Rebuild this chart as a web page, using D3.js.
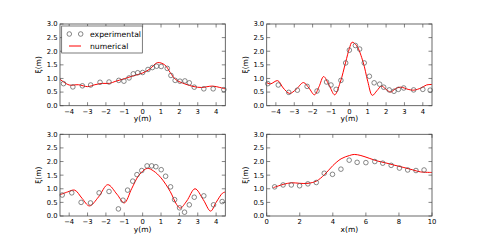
<!DOCTYPE html>
<html>
<head>
<meta charset="utf-8">
<script src="https://cdn.jsdelivr.net/npm/d3@7/dist/d3.min.js"></script>
<style>
  body { margin: 0; background: #fff; }
  svg { display: block; font-family: "DejaVu Sans", sans-serif; }
</style>
</head>
<body>
<script>
// experimental points (y or x position, wave height)
let exp1 = [[-4.31,0.81],[-3.80,0.69],[-3.28,0.73],[-2.83,0.76],[-2.32,0.86],[-1.83,0.87],[-1.30,0.93],[-1.02,0.90],[-0.74,1.02],[-0.51,1.17],[-0.27,1.21],[0,1.22],[0.29,1.33],[0.53,1.40],[0.76,1.45],[1.01,1.44],[1.34,1.37],[1.54,1.11],[1.77,0.93],[2.03,0.90],[2.30,0.91],[2.54,0.84],[2.81,0.68],[3.33,0.62],[3.84,0.62],[4.42,0.59]]
let num1 = [[-4.5,0.97],[-4.0,0.76],[-3.5,0.77],[-3.0,0.70],[-2.6,0.77],[-2.2,0.82],[-1.8,0.82],[-1.5,0.89],[-1.0,0.99],[-0.5,1.10],[0,1.20],[0.4,1.35],[0.8,1.58],[1.2,1.50],[1.5,1.22],[1.8,0.96],[2.3,0.80],[2.8,0.70],[3.2,0.67],[3.8,0.72],[4.2,0.67],[4.5,0.62]]

let exp2 = [[-4.44,0.81],[-3.87,0.76],[-3.30,0.49],[-2.83,0.57],[-2.30,0.71],[-1.76,0.54],[-1.24,0.87],[-1.00,0.76],[-0.72,0.60],[-0.46,0.93],[-0.20,1.57],[0,2.04],[0.33,2.21],[0.56,2.08],[0.81,1.57],[1.09,1.08],[1.35,0.84],[1.65,0.79],[1.87,0.68],[2.17,0.58],[2.43,0.53],[2.67,0.60],[2.96,0.65],[3.50,0.58],[4.00,0.60],[4.40,0.57]]
let num2 = [[-4.5,0.85],[-4.3,0.80],[-3.9,0.92],[-3.6,0.65],[-3.25,0.45],[-2.9,0.60],[-2.5,0.85],[-2.2,0.65],[-1.9,0.40],[-1.65,0.70],[-1.4,1.07],[-1.1,0.75],[-0.8,0.40],[-0.5,0.85],[-0.2,1.60],[0,2.10],[0.15,2.33],[0.4,2.20],[0.75,1.60],[1.0,0.90],[1.25,0.38],[1.5,0.55],[1.75,0.72],[2.0,0.60],[2.25,0.50],[2.5,0.62],[2.8,0.68],[3.2,0.60],[3.5,0.57],[3.9,0.65],[4.2,0.76],[4.5,0.78]]

let exp3 = [[-4.38,0.77],[-3.86,0.85],[-3.35,0.50],[-2.84,0.48],[-2.37,0.85],[-1.83,0.90],[-1.32,0.26],[-1.07,0.58],[-0.82,0.95],[-0.54,1.28],[-0.31,1.52],[-0.05,1.67],[0.24,1.84],[0.49,1.84],[0.72,1.81],[1.01,1.70],[1.25,1.46],[1.52,1.07],[1.74,0.60],[2.01,0.30],[2.28,0.14],[2.54,0.41],[2.81,0.69],[3.33,0.74],[3.86,0.41],[4.33,0.53]]
let num3 = [[-4.5,0.78],[-4.1,0.88],[-3.7,0.95],[-3.3,0.65],[-2.9,0.37],[-2.4,0.70],[-1.9,1.15],[-1.4,0.80],[-1.0,0.48],[-0.6,1.00],[-0.2,1.50],[0.25,1.75],[0.6,1.65],[1.0,1.40],[1.5,0.90],[1.85,0.42],[2.05,0.29],[2.4,0.55],[2.85,1.00],[3.3,0.60],[3.7,0.18],[4.0,0.50],[4.35,0.84],[4.5,0.88]]

let exp4 = [[0.48,1.07],[0.99,1.14],[1.49,1.14],[1.99,1.11],[2.49,1.18],[3.00,1.23],[3.48,1.57],[3.98,1.53],[4.49,1.72],[4.99,2.05],[5.47,1.97],[6.00,1.96],[6.54,2.00],[7.02,1.94],[7.53,1.86],[8.03,1.76],[8.53,1.69],[9.03,1.67],[9.52,1.69]]
let num4 = [[0.4,1.04],[1.0,1.16],[1.5,1.22],[2.0,1.20],[2.5,1.20],[3.0,1.28],[3.5,1.52],[4.0,1.85],[4.5,2.10],[5.0,2.22],[5.3,2.26],[5.7,2.22],[6.2,2.12],[6.7,2.02],[7.2,1.95],[7.7,1.87],[8.3,1.78],[8.8,1.70],[9.3,1.62],[10,1.60]]

let yTicks = [0, 0.5, 1.0, 1.5, 2.0, 2.5, 3.0]
let yTicksSide = [-4, -3, -2, -1, 0, 1, 2, 3, 4]
let xTicksLong = [0, 2, 4, 6, 8, 10]
let legendLabels = ["experimental", "numerical"]

let w = 480
let h = 240

let panels = [
  {exp: exp1, num: num1, dom: [-4.5, 4.5], ticks: yTicksSide, xl: "y(m)", x0: 60, x1: 225.3, y0: 24, y1: 105.7, legend: true},
  {exp: exp2, num: num2, dom: [-4.5, 4.5], ticks: yTicksSide, xl: "y(m)", x0: 266.7, x1: 432, y0: 24, y1: 105.7},
  {exp: exp3, num: num3, dom: [-4.5, 4.5], ticks: yTicksSide, xl: "y(m)", x0: 60, x1: 225.3, y0: 134.3, y1: 216},
  {exp: exp4, num: num4, dom: [0, 10], ticks: xTicksLong, xl: "x(m)", x0: 266.7, x1: 432, y0: 134.3, y1: 216}
]

let svg = d3.select('body').append('svg')
  .attr('width', w)
  .attr('height', h)

let fmtNeg = d => (d < 0 ? "\u2212" + Math.abs(d) : "" + d)

function drawPanel(p){
  let x = d3.scaleLinear().domain(p.dom).range([p.x0, p.x1])
  let y = d3.scaleLinear().domain([0, 3]).range([p.y1, p.y0])
  let g = svg.append('g')

  let clipId = 'clip' + Math.round(p.x0) + Math.round(p.y0)
  svg.append('clipPath').attr('id', clipId)
    .append('rect').attr('x', p.x0).attr('y', p.y0)
    .attr('width', p.x1 - p.x0).attr('height', p.y1 - p.y0)

  let line = d3.line().x(d => x(d[0])).y(d => y(d[1])).curve(d3.curveCatmullRom.alpha(0.5))
  g.append('path')
    .attr('d', line(p.num))
    .attr('clip-path', 'url(#' + clipId + ')')
    .attr('fill', 'none')
    .attr('stroke', '#ff0000')
    .attr('stroke-width', 1)

  g.selectAll('circle.pt').data(p.exp).enter().append('circle')
    .attr('class', 'pt')
    .attr('cx', d => x(d[0]))
    .attr('cy', d => y(d[1]))
    .attr('r', 2.3)
    .attr('fill', 'none')
    .attr('stroke', '#555')
    .attr('stroke-width', 0.7)

  // inward ticks on all four sides
  let xt = p.ticks
  g.selectAll('line.xb').data(xt).enter().append('line')
    .attr('x1', d => x(d)).attr('x2', d => x(d))
    .attr('y1', p.y1).attr('y2', p.y1 - 3.5)
    .attr('stroke', '#333').attr('stroke-width', 0.6)
  g.selectAll('line.xt').data(xt).enter().append('line')
    .attr('x1', d => x(d)).attr('x2', d => x(d))
    .attr('y1', p.y0).attr('y2', p.y0 + 3.5)
    .attr('stroke', '#333').attr('stroke-width', 0.6)
  g.selectAll('line.yl').data(yTicks).enter().append('line')
    .attr('x1', p.x0).attr('x2', p.x0 + 3.5)
    .attr('y1', d => y(d)).attr('y2', d => y(d))
    .attr('stroke', '#333').attr('stroke-width', 0.6)
  g.selectAll('line.yr').data(yTicks).enter().append('line')
    .attr('x1', p.x1).attr('x2', p.x1 - 3.5)
    .attr('y1', d => y(d)).attr('y2', d => y(d))
    .attr('stroke', '#333').attr('stroke-width', 0.6)

  g.append('rect')
    .attr('x', p.x0).attr('y', p.y0)
    .attr('width', p.x1 - p.x0).attr('height', p.y1 - p.y0)
    .attr('fill', 'none').attr('stroke', '#444').attr('stroke-width', 0.8)

  g.selectAll('text.xtl').data(xt).enter().append('text')
    .attr('x', d => x(d)).attr('y', p.y1 + 8)
    .attr('text-anchor', 'middle')
    .attr('font-size', 6.8)
    .text(fmtNeg)
  g.selectAll('text.ytl').data(yTicks).enter().append('text')
    .attr('x', p.x0 - 2.5).attr('y', d => y(d) + 2.4)
    .attr('text-anchor', 'end')
    .attr('font-size', 6.8)
    .text(d => d.toFixed(1))

  g.append('text')
    .attr('x', (p.x0 + p.x1) / 2).attr('y', p.y1 + 15.5)
    .attr('text-anchor', 'middle').attr('font-size', 7.5)
    .text(p.xl)
  g.append('text')
    .attr('transform', 'translate(' + (p.x0 - 19) + ',' + ((p.y0 + p.y1) / 2) + ') rotate(-90)')
    .attr('text-anchor', 'middle').attr('font-size', 7.5)
    .text("\u03BE(m)")

  if (p.legend){
    let lg = g.append('g')
    lg.append('rect').attr('x', 61.7).attr('y', 26).attr('width', 80.6).attr('height', 27)
      .attr('fill', '#fff').attr('stroke', '#444').attr('stroke-width', 0.7)
    lg.selectAll('circle').data([69.3, 80.7]).enter().append('circle')
      .attr('cx', d => d).attr('cy', 34).attr('r', 2.3)
      .attr('fill', 'none').attr('stroke', '#555').attr('stroke-width', 0.7)
    lg.append('line').attr('x1', 69).attr('x2', 81).attr('y1', 46).attr('y2', 46)
      .attr('stroke', '#ff0000').attr('stroke-width', 1)
    lg.selectAll('text').data(legendLabels).enter().append('text')
      .attr('x', 90).attr('y', (d, i) => 37 + i * 12)
      .attr('font-size', 7.7)
      .text(d => d)
  }
}

panels.forEach(drawPanel)
</script>
</body>
</html>
